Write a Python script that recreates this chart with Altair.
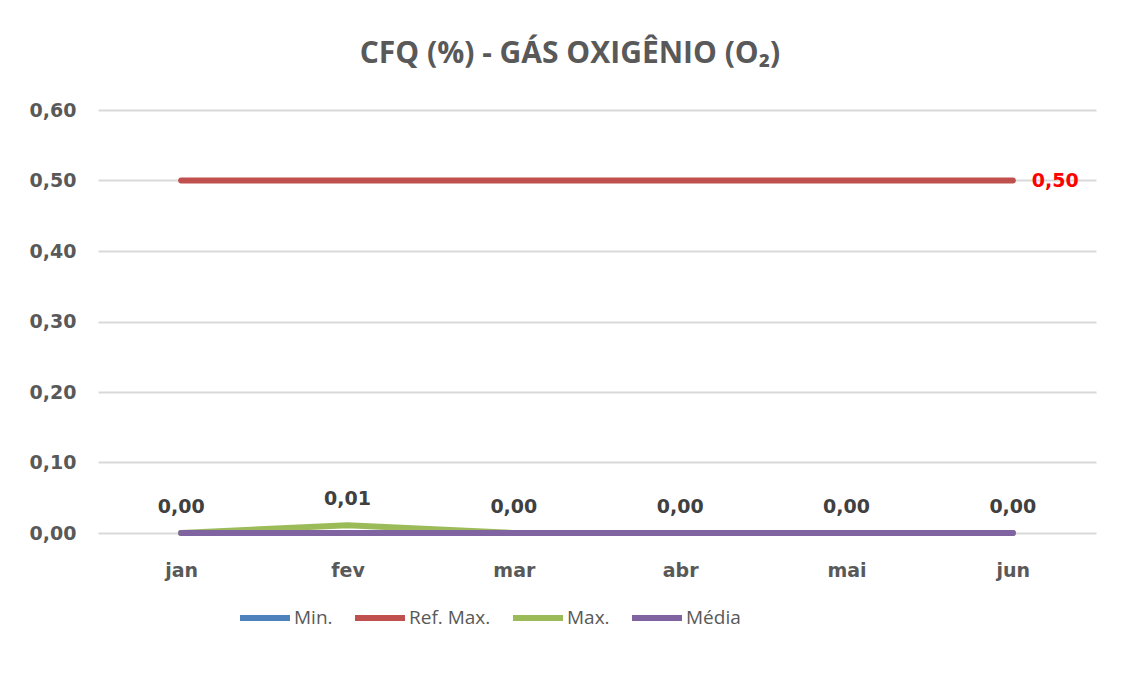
import altair as alt
import pandas as pd

months = ["jan", "fev", "mar", "abr", "mai", "jun"]
series_names = ["Min.", "Ref. Max.", "Max.", "Média"]
min_vals = [0.0, 0.0, 0.0, 0.0, 0.0, 0.0]
ref_max_vals = [0.50, 0.50, 0.50, 0.50, 0.50, 0.50]
max_vals = [0.0, 0.011, 0.0, 0.0, 0.0, 0.0]
media_vals = [0.0, 0.0, 0.0, 0.0, 0.0, 0.0]
y_ticks = [0.0, 0.1, 0.2, 0.3, 0.4, 0.5, 0.6]
colors = ["#4F81BD", "#C0504D", "#9BBB59", "#8064A2"]

rows = []
for name, vals in zip(series_names, [min_vals, ref_max_vals, max_vals, media_vals]):
    for m, v in zip(months, vals):
        rows.append({"mes": m, "serie": name, "valor": v})
df = pd.DataFrame(rows)

FONT = "Open Sans"
BFONT = "DejaVu Sans"

x_enc = alt.X("mes:N", sort=months, scale=alt.Scale(type="point", padding=0.5),
              axis=alt.Axis(title=None, labelAngle=0, labelFont=BFONT, labelFontSize=19,
                            labelFontWeight="bold", labelColor="#595959", labelPadding=28,
                            ticks=False, domain=False, grid=False))
y_enc = alt.Y("valor:Q", scale=alt.Scale(domain=[0, 0.6], nice=False),
              axis=alt.Axis(title=None, values=y_ticks, labelFont=BFONT, labelFontSize=19,
                            labelFontWeight="bold", labelColor="#595959", labelPadding=22,
                            ticks=False, domain=False, gridColor="#D9D9D9", gridWidth=2,
                            labelExpr="replace(format(datum.value, '.2f'), '.', ',')"))
color_enc = alt.Color("serie:N", scale=alt.Scale(domain=series_names, range=colors),
                      legend=alt.Legend(title=None, orient="none", legendX=139, legendY=480,
                                        direction="horizontal", columns=4,
                                        symbolType="stroke", symbolSize=2500,
                                        symbolStrokeWidth=6, labelFont=FONT,
                                        labelFontSize=19, labelColor="#595959",
                                        labelOffset=1, columnPadding=10))

base = alt.Chart(df)
layers = []
for name in series_names:
    layers.append(
        base.transform_filter(alt.datum.serie == name)
        .mark_line(strokeWidth=6, strokeCap="round", strokeJoin="round")
        .encode(x=x_enc, y=y_enc, color=color_enc)
    )

labels_max = (
    base.transform_filter(alt.datum.serie == "Max.")
    .transform_calculate(lbl="replace(format(datum.valor, '.2f'), '.', ',')")
    .mark_text(font=BFONT, fontSize=19, fontWeight="bold", color="#404040",
               baseline="alphabetic", dy=-20)
    .encode(x=x_enc, y=y_enc, text="lbl:N")
)
labels_ref = (
    base.transform_filter((alt.datum.serie == "Ref. Max.") & (alt.datum.mes == "jun"))
    .transform_calculate(lbl="replace(format(datum.valor, '.2f'), '.', ',')")
    .mark_text(font=BFONT, fontSize=19, fontWeight="bold", color="#FF0000",
               align="left", baseline="middle", dx=19)
    .encode(x=x_enc, y=y_enc, text="lbl:N")
)

chart = alt.layer(*layers, labels_max, labels_ref).properties(
    width=998, height=423,
    autosize=alt.AutoSizeParams(type="none"),
    padding={"left": 90, "top": 102, "right": 20, "bottom": 125},
    background="white",
    title=alt.TitleParams("CFQ (%) - GÁS OXIGÊNIO (O₂)", font=FONT, fontSize=30,
                          fontWeight="bold", color="#595959", anchor="middle",
                          frame="group", dx=-27, baseline="alphabetic", offset=8),
).configure_view(stroke=None)

chart.save("out.html", embed_options={"renderer": "svg", "actions": False})
